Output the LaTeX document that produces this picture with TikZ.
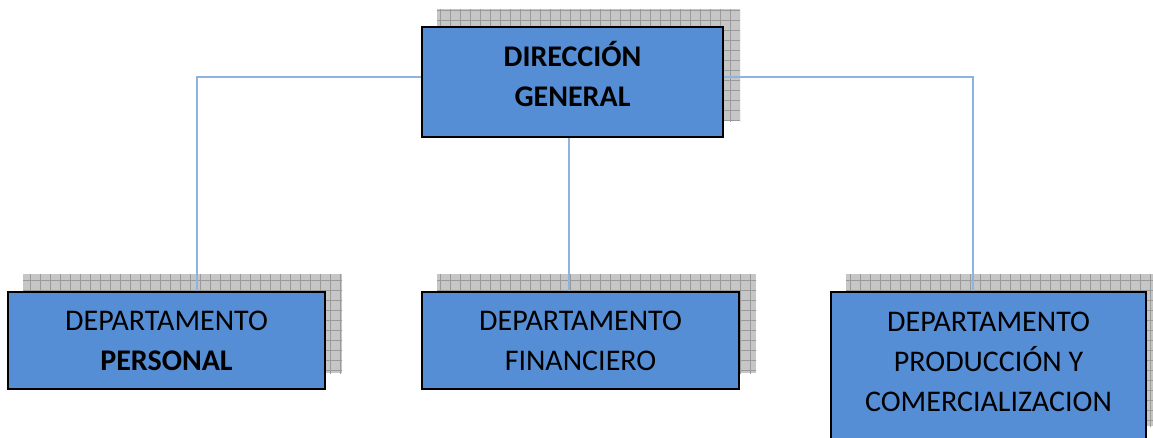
\documentclass[tikz,border=0pt]{standalone}
\usepackage{fontspec}
\setmainfont{Carlito}
\usetikzlibrary{backgrounds}
\definecolor{boxblue}{HTML}{558ED5}
\definecolor{linkblue}{HTML}{8DB3E2}
\definecolor{shadegray}{HTML}{C6C6C6}
\definecolor{gridgray}{HTML}{9A9A9A}
\newcommand\myshadow[1]{%
  \begin{scope}
    \clip ([shift={(16pt,17pt)}]#1.south west) rectangle ([shift={(16pt,17pt)}]#1.north east);
    \fill[shadegray] ([shift={(16pt,17pt)}]#1.south west) rectangle ([shift={(16pt,17pt)}]#1.north east);
    \draw[gridgray, line width=0.6pt, step=10pt] (4,451) grid (1164,1);
  \end{scope}}
\begin{document}
\begin{tikzpicture}[x=1pt,y=-1pt,
  orgbox/.style={draw=black, line width=2pt, fill=boxblue, align=center, inner sep=0pt,
    font=\fontsize{30}{40}\selectfont},
  conn/.style={draw=linkblue, line width=1.5pt}]
\useasboundingbox (0,0) rectangle (1153,437);
\node[orgbox, minimum width=301pt, minimum height=110pt] (top) at (572.5,82)
  {\textbf{DIRECCIÓN}\\\textbf{GENERAL}\rule[-17pt]{0pt}{1pt}};
\node[orgbox, minimum width=317pt, minimum height=97pt] (left) at (166.5,340.5)
  {DEPARTAMENTO\\\textbf{PERSONAL}};
\node[orgbox, minimum width=317pt, minimum height=97pt] (mid) at (580.5,340.5)
  {DEPARTAMENTO\\FINANCIERO};
\node[orgbox, minimum width=315pt, minimum height=150pt] (right) at (988.5,367)
  {DEPARTAMENTO\\PRODUCCIÓN Y\\COMERCIALIZACION\rule[-10pt]{0pt}{1pt}};
\begin{pgfonlayer}{background}
  \myshadow{top}
  \myshadow{left}
  \myshadow{mid}
  \myshadow{right}
  \draw[conn] ([yshift=5pt]top.west) -| ([xshift=30.5pt]left.north);
  \draw[conn] ([yshift=5pt]top.east) -| ([xshift=-15.5pt]right.north);
  \draw[conn] ([xshift=-3.5pt]top.south) -- ([xshift=-3.5pt]top.south |- mid.north);
\end{pgfonlayer}
\end{tikzpicture}
\end{document}
